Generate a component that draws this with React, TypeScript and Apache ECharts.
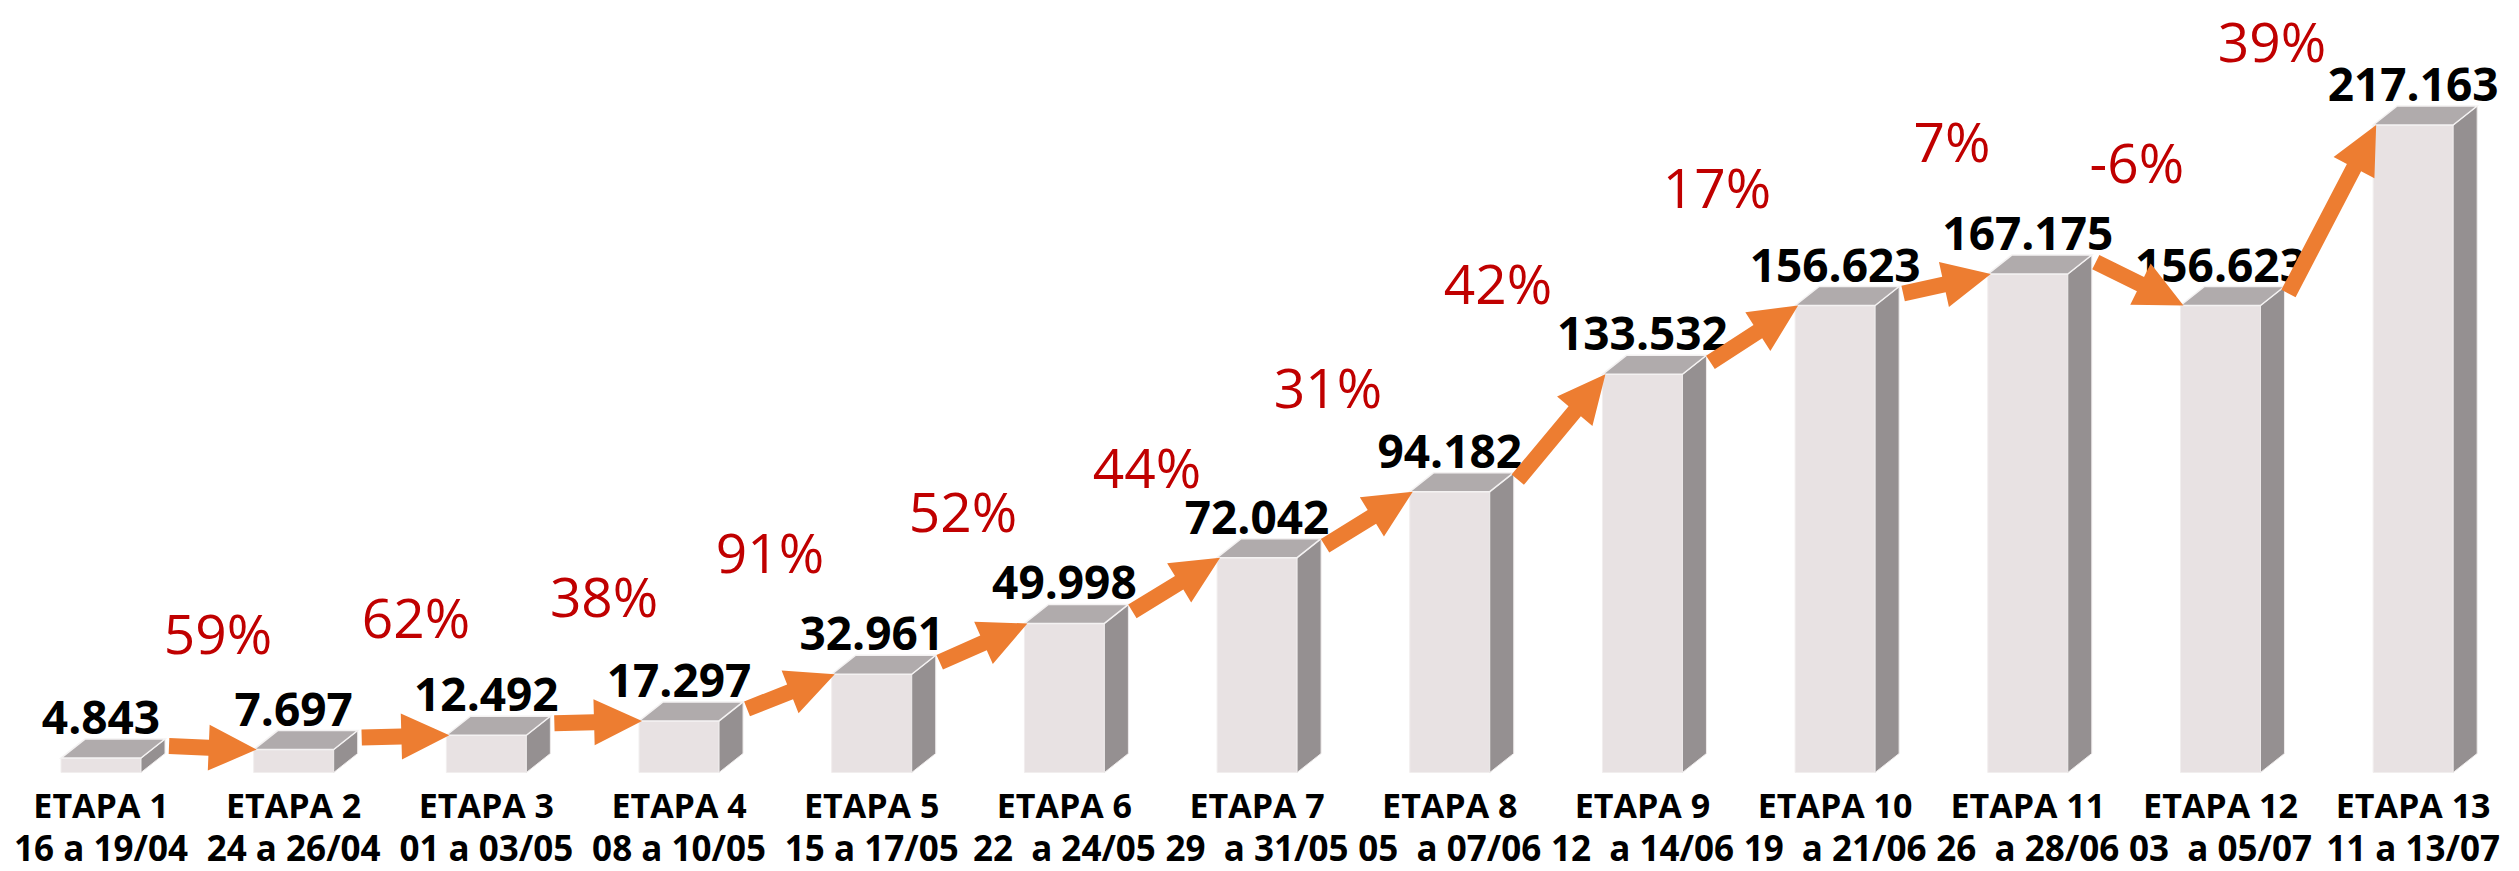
import React, { useEffect, useRef } from 'react';
import * as echarts from 'echarts';

// ---- data ----
const categories = [
  'ETAPA 1', 'ETAPA 2', 'ETAPA 3', 'ETAPA 4', 'ETAPA 5', 'ETAPA 6', 'ETAPA 7',
  'ETAPA 8', 'ETAPA 9', 'ETAPA 10', 'ETAPA 11', 'ETAPA 12', 'ETAPA 13',
];
const dateRanges = [
  '16 a 19/04', '24 a 26/04', '01 a 03/05', '08 a 10/05', '15 a 17/05',
  '22  a 24/05', '29  a 31/05', '05  a 07/06', '12  a 14/06', '19  a 21/06',
  '26  a 28/06', '03  a 05/07', '11 a 13/07',
];
const values = [4843, 7697, 12492, 17297, 32961, 49998, 72042, 94182, 133532, 156623, 167175, 156623, 217163];
const changePct = [59, 62, 38, 91, 52, 44, 31, 42, 17, 7, -6, 39];

// ---- layout of the percentage annotations (category units, value units) ----
const pctLabelX = [0.607, 1.635, 2.611, 3.472, 4.474, 5.429, 6.368, 7.25, 8.387, 9.607, 10.566, 11.267];
const pctLabelY = [47100, 52200, 59200, 74000, 88000, 102500, 129300, 164200, 196700, 211800, 204800, 245600];

const fmt = (v: number) => String(v).replace(/\B(?=(\d{3})+(?!\d))/g, '.');

const FONT = "'Open Sans', 'Noto Sans', sans-serif";

export default function App() {
  const ref = useRef<HTMLDivElement>(null);

  useEffect(() => {
    if (!ref.current) return;
    const chart = echarts.init(ref.current, null, { renderer: 'svg' });

    const HW = 40; // half width of front face
    const DX = 24; // depth x
    const DY = 19; // depth y

    const option: any = {
      animation: false,
      backgroundColor: '#ffffff',
      textStyle: { fontFamily: FONT },
      grid: { left: 4.66, right: 9.5, top: 27.1, bottom: 98.5, containLabel: false },
      xAxis: [
        {
          type: 'category',
          data: categories,
          boundaryGap: true,
          axisLine: { show: false },
          axisTick: { show: false },
          splitLine: { show: false },
          axisLabel: {
            interval: 0,
            margin: 7,
            formatter: (val: string, idx: number) => `{a|${val}}\n{b|${dateRanges[idx]}}`,
            rich: {
              a: { fontFamily: FONT, fontWeight: 'bold', fontSize: 34, lineHeight: 50, color: '#000000' },
              b: { fontFamily: FONT, fontWeight: 'bold', fontSize: 35, lineHeight: 35, color: '#000000' },
            },
          },
        },
        { type: 'value', min: -0.5, max: 12.5, show: false, splitLine: { show: false } },
      ],
      yAxis: { type: 'value', min: 0, max: 250000, show: false, splitLine: { show: false } },
      series: [
        {
          type: 'custom',
          name: 'bars',
          xAxisIndex: 0,
          z: 2,
          data: values.map((v, i) => [i, v]),
          renderItem: (params: any, api: any) => {
            const i = api.value(0);
            const v = api.value(1);
            const top = api.coord([i, v]);
            const base = api.coord([i, 0]);
            const xl = top[0] - HW;
            const xr = top[0] + HW;
            const yt = top[1];
            const yb = base[1];
            return {
              type: 'group',
              children: [
                {
                  type: 'polygon',
                  shape: { points: [[xl, yt], [xr, yt], [xr, yb], [xl, yb]] },
                  style: { fill: '#E8E2E3', stroke: '#F1EEEE', lineWidth: 1 },
                },
                {
                  type: 'polygon',
                  shape: { points: [[xr, yt], [xr + DX, yt - DY], [xr + DX, yb - DY], [xr, yb]] },
                  style: { fill: '#959091', stroke: '#EEEBEB', lineWidth: 1 },
                },
                {
                  type: 'polygon',
                  shape: { points: [[xl, yt], [xl + DX, yt - DY], [xr + DX, yt - DY], [xr, yt]] },
                  style: { fill: '#B0ABAC', stroke: '#F4F2F2', lineWidth: 1.5 },
                },
                {
                  type: 'text',
                  x: top[0],
                  y: yt - 42,
                  style: {
                    text: fmt(values[i]),
                    fill: '#000000',
                    fontFamily: FONT,
                    fontWeight: 'bold',
                    fontSize: 46,
                    align: 'center',
                    verticalAlign: 'middle',
                  },
                },
              ],
            };
          },
        },
        {
          type: 'custom',
          name: 'arrows',
          xAxisIndex: 0,
          z: 5,
          data: changePct.map((_, i) => [i, values[i], values[i + 1]]),
          renderItem: (params: any, api: any) => {
            const i = api.value(0);
            const a = api.coord([i, api.value(1)]);
            const b = api.coord([i + 1, api.value(2)]);
            const T = [a[0] + HW + DX + 4, a[1] - 12];
            const H = [b[0] - HW + 3, b[1]];
            const vx = H[0] - T[0];
            const vy = H[1] - T[1];
            const len = Math.sqrt(vx * vx + vy * vy);
            const ux = vx / len;
            const uy = vy / len;
            const nx = -uy;
            const ny = ux;
            const headLen = 48;
            const headHalf = 23;
            const shaftHalf = 8;
            const B = [H[0] - ux * headLen, H[1] - uy * headLen];
            const pts = [
              [T[0] + nx * shaftHalf, T[1] + ny * shaftHalf],
              [B[0] + nx * shaftHalf, B[1] + ny * shaftHalf],
              [B[0] + nx * headHalf, B[1] + ny * headHalf],
              [H[0], H[1]],
              [B[0] - nx * headHalf, B[1] - ny * headHalf],
              [B[0] - nx * shaftHalf, B[1] - ny * shaftHalf],
              [T[0] - nx * shaftHalf, T[1] - ny * shaftHalf],
            ];
            return { type: 'polygon', shape: { points: pts }, style: { fill: '#ED7D31' } };
          },
        },
        {
          type: 'custom',
          name: 'pct',
          xAxisIndex: 1,
          z: 6,
          data: changePct.map((p, i) => [pctLabelX[i], pctLabelY[i], p]),
          renderItem: (params: any, api: any) => {
            const pt = api.coord([api.value(0), api.value(1)]);
            const p = changePct[params.dataIndex];
            return {
              type: 'text',
              x: pt[0],
              y: pt[1],
              style: {
                text: `${p}%`,
                fill: '#C00000',
                fontFamily: FONT,
                fontWeight: 'normal',
                fontSize: 55,
                align: 'center',
                verticalAlign: 'middle',
              },
            };
          },
        },
      ],
    };

    chart.setOption(option);
    return () => chart.dispose();
  }, []);

  return (
    <div
      ref={ref}
      style={{ position: 'absolute', left: 0, top: 0, width: '2519px', height: '871px', background: '#fff' }}
    />
  );
}
